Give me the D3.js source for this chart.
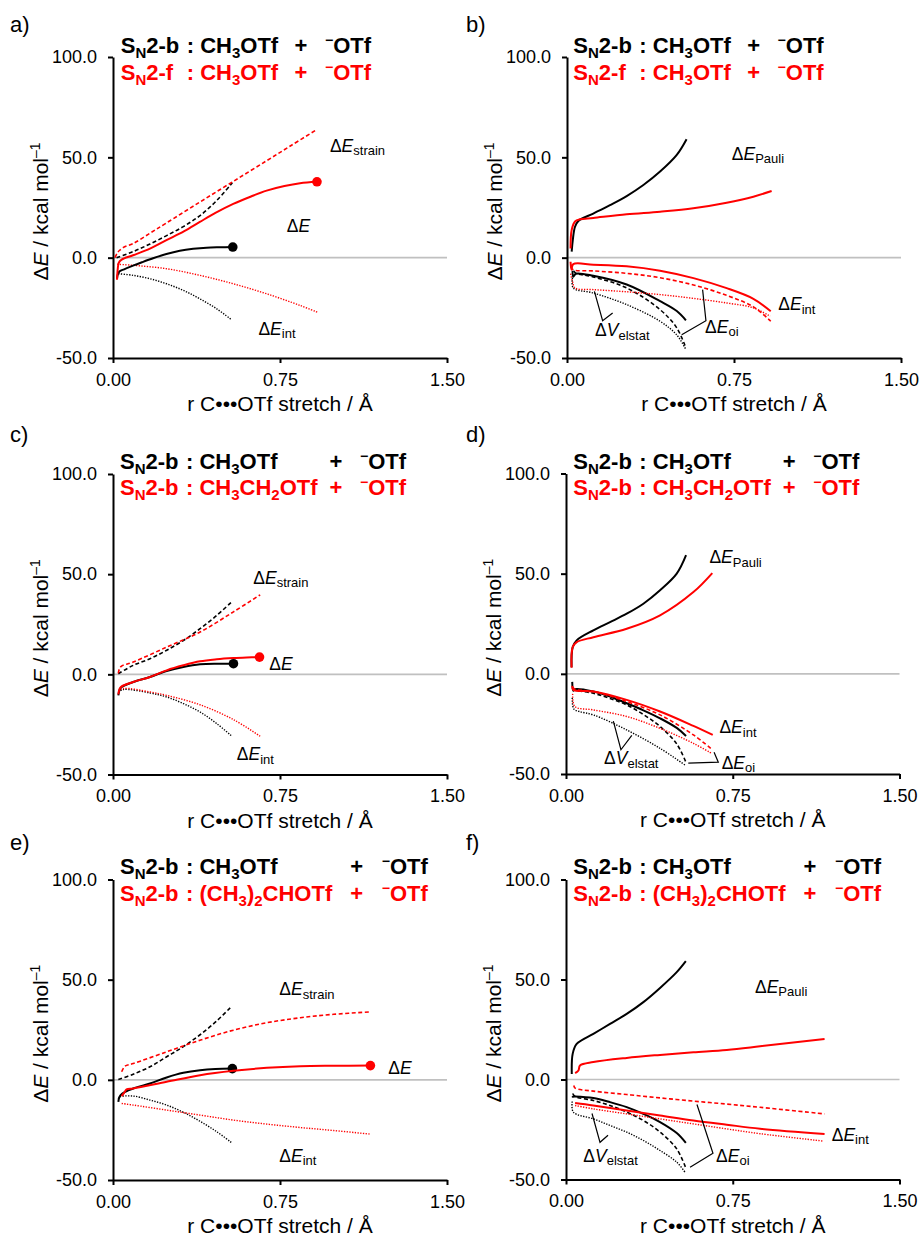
<!DOCTYPE html>
<html>
<head>
<meta charset="utf-8">
<script src="https://cdn.jsdelivr.net/npm/d3@7"></script>
<style>
  body { margin: 0; background: #fff; }
  svg { display: block; }
  text { font-family: "Liberation Sans", Arial, sans-serif; }
</style>
</head>
<body>
<svg id="chart" width="921" height="1237"></svg>
<script>
// ---- axis ticks ----
const xTicks = [0, 0.75, 1.5];
const yTicks = [-50, 0, 50, 100];
const xTickLabels = ["0.00", "0.75", "1.50"];
const yTickLabels = ["-50.0", "0.0", "50.0", "100.0"];

// ---- a) SN2-b vs SN2-f, CH3OTf: activation strain ----
const aBlkE = [[0.018,-10.5],[0.022,-8.2],[0.03,-6.8],[0.05,-5.8],[0.09,-4.0],[0.13,-2.3],[0.18,-0.3],[0.24,1.8],[0.30,3.4],[0.36,4.4],[0.42,5.0],[0.48,5.2],[0.538,5.3]];
const aRedE = [[0.018,-11],[0.021,-6],[0.026,-2.5],[0.039,-1.0],[0.09,1.2],[0.166,4.5],[0.24,8.7],[0.32,13.2],[0.39,17.8],[0.46,22.3],[0.54,26.8],[0.62,30.5],[0.69,33.4],[0.77,35.7],[0.84,37.1],[0.916,37.8]];
const aBlkStrain = [[0.016,0],[0.09,3],[0.166,6.8],[0.241,11],[0.316,15.5],[0.391,21],[0.466,28.5],[0.536,37.3]];
const aRedStrain = [[0.009,0],[0.02,2.5],[0.03,3.7],[0.05,5.3],[0.09,7],[0.166,12.2],[0.24,17.3],[0.39,27.7],[0.54,38],[0.69,48.3],[0.80,55.9],[0.913,63.7]];
const aBlkInt = [[0.024,-8],[0.09,-8.8],[0.166,-10.5],[0.24,-13],[0.316,-16.3],[0.39,-20.5],[0.466,-25.5],[0.533,-31]];
const aRedInt = [[0.019,-3.3],[0.09,-3.8],[0.24,-5.5],[0.39,-8.8],[0.54,-13],[0.69,-18],[0.84,-23.8],[0.918,-27.2]];

// ---- b) SN2-b vs SN2-f, CH3OTf: energy decomposition ----
const bBlkPauli = [[0.021,3],[0.026,8.8],[0.036,15.4],[0.051,18.3],[0.118,22],[0.193,26.2],[0.268,30.7],[0.343,36.2],[0.418,42.9],[0.493,51.2],[0.537,59]];
const bRedPauli = [[0.016,4.6],[0.021,13.8],[0.036,18],[0.058,19.1],[0.118,19.8],[0.268,21.6],[0.418,22.9],[0.567,24.6],[0.717,27.4],[0.837,30.4],[0.919,33.2]];
const bBlkInt = [[0.025,-6.5],[0.028,-9.5],[0.04,-8.0],[0.118,-9],[0.268,-13.4],[0.418,-21.7],[0.493,-26.6],[0.534,-31.2]];
const bBlkOi = [[0.03,-6.5],[0.038,-7.6],[0.118,-9.6],[0.268,-15.1],[0.418,-25.9],[0.493,-35],[0.534,-45]];
const bBlkVel = [[0.025,-10],[0.028,-15.1],[0.118,-17.6],[0.268,-23.4],[0.418,-31.7],[0.493,-38.5],[0.534,-45.8]];
const bRedInt = [[0.016,-2],[0.02,-6],[0.028,-3.2],[0.118,-3.5],[0.268,-4.3],[0.418,-6.5],[0.568,-10.2],[0.717,-15.2],[0.837,-20.5],[0.915,-26.7]];
const bRedOi = [[0.018,-4.5],[0.028,-6],[0.118,-6.6],[0.268,-7.8],[0.418,-10],[0.568,-13.6],[0.717,-18.8],[0.837,-24.5],[0.915,-31.7]];
const bRedVel = [[0.016,-8],[0.025,-12],[0.036,-15.1],[0.118,-15.9],[0.268,-17],[0.418,-18.4],[0.568,-20.3],[0.718,-22.6],[0.837,-25],[0.912,-29.2]];

// ---- c) CH3OTf vs CH3CH2OTf: activation strain ----
const cBlkE = [[0.024,-10.5],[0.03,-7.5],[0.039,-6.3],[0.091,-3.8],[0.166,-1.3],[0.241,1.7],[0.316,3.7],[0.391,5],[0.47,5.3],[0.541,5.3]];
const cRedE = [[0.024,-10],[0.03,-7.2],[0.039,-6],[0.091,-3.8],[0.166,-1.3],[0.241,2],[0.316,4.5],[0.391,6.5],[0.466,7.5],[0.541,8.1],[0.6,8.4],[0.658,8.6]];
const cBlkStrain = [[0.024,0.3],[0.091,4.5],[0.166,7.8],[0.241,12],[0.316,16.9],[0.391,22.8],[0.466,29.4],[0.536,36.5]];
const cRedStrain = [[0.024,0.5],[0.034,3.7],[0.091,6.1],[0.241,13.6],[0.391,21.1],[0.541,31.2],[0.661,39.7]];
const cBlkInt = [[0.024,-9],[0.046,-7.6],[0.166,-9.3],[0.241,-11.3],[0.316,-14.6],[0.391,-18.8],[0.466,-24.6],[0.534,-30.9]];
const cRedInt = [[0.024,-8.5],[0.046,-7.1],[0.166,-8.8],[0.241,-10.5],[0.391,-15.2],[0.541,-22.6],[0.661,-30.9]];

// ---- d) CH3OTf vs CH3CH2OTf: energy decomposition ----
const dBlkPauli = [[0.025,3.3],[0.03,13.3],[0.048,16.7],[0.123,21.7],[0.198,25.8],[0.273,30],[0.348,35],[0.423,41.7],[0.498,50],[0.54,59.2]];
const dRedPauli = [[0.025,3],[0.03,13.3],[0.048,15.8],[0.123,18.3],[0.273,22.5],[0.423,29.2],[0.573,40.8],[0.658,50.3]];
const dBlkInt = [[0.028,-4],[0.033,-8.5],[0.04,-7.7],[0.123,-8.8],[0.198,-11.3],[0.273,-14.7],[0.348,-18.2],[0.423,-22.2],[0.498,-27],[0.54,-31]];
const dBlkOi = [[0.03,-7],[0.04,-8],[0.123,-9.7],[0.198,-12.3],[0.273,-15.5],[0.348,-20.3],[0.423,-26.3],[0.498,-35],[0.54,-44.3]];
const dBlkVel = [[0.028,-12],[0.035,-17.5],[0.06,-18.8],[0.123,-20.5],[0.273,-28],[0.423,-37.2],[0.535,-45.5]];
const dRedInt = [[0.028,-6],[0.033,-8],[0.123,-8.8],[0.273,-13],[0.423,-18.8],[0.573,-26],[0.66,-30.5]];
const dRedOi = [[0.03,-6.5],[0.04,-7.7],[0.123,-8.8],[0.273,-13.8],[0.423,-20.5],[0.573,-30.5],[0.66,-38]];
const dRedVel = [[0.03,-10],[0.04,-16.3],[0.123,-18],[0.273,-21.3],[0.423,-27.2],[0.573,-34.7],[0.655,-39.7]];

// ---- e) CH3OTf vs (CH3)2CHOTf: activation strain ----
const eBlkE = [[0.024,-11],[0.028,-8.8],[0.034,-7.6],[0.054,-6],[0.091,-4.3],[0.166,-1.8],[0.241,1.2],[0.316,3.5],[0.391,4.8],[0.46,5.4],[0.536,5.6]];
const eRedE = [[0.039,-8.1],[0.05,-6.5],[0.061,-4.8],[0.091,-4.3],[0.241,-1],[0.391,2.3],[0.541,4.5],[0.691,6],[0.841,6.8],[0.991,7],[1.156,7.1]];
const eBlkStrain = [[0.024,0.2],[0.091,2.8],[0.166,6.5],[0.241,11.5],[0.316,16.6],[0.391,22.5],[0.466,29.4],[0.533,36.7]];
const eRedStrain = [[0.039,4],[0.054,6.8],[0.091,8.1],[0.241,14],[0.391,19.8],[0.541,24.8],[0.691,28.5],[0.841,31],[0.991,32.7],[1.156,33.9]];
const eBlkInt = [[0.024,-9.5],[0.031,-8.5],[0.091,-8.1],[0.166,-10.1],[0.241,-12.6],[0.316,-16.2],[0.391,-20.7],[0.466,-25.9],[0.533,-31.4]];
const eRedInt = [[0.039,-11.8],[0.091,-12.6],[0.241,-15.1],[0.391,-17.6],[0.541,-20.1],[0.691,-22.1],[0.841,-23.8],[0.991,-25.3],[1.156,-27.1]];

// ---- f) CH3OTf vs (CH3)2CHOTf: energy decomposition ----
const fBlkPauli = [[0.026,2.8],[0.03,12.8],[0.048,17.8],[0.123,22.8],[0.198,27.8],[0.273,32.8],[0.348,38.7],[0.423,45.8],[0.498,53.7],[0.539,59.2]];
const fRedPauli = [[0.041,3.2],[0.056,4.5],[0.063,7],[0.123,8.7],[0.273,10.8],[0.423,12.3],[0.573,13.6],[0.723,14.8],[0.873,16.6],[1.163,20.3]];
const fBlkInt = [[0.028,-9],[0.033,-8.5],[0.041,-8.5],[0.123,-9.3],[0.198,-11.3],[0.273,-13.8],[0.348,-17.2],[0.423,-21.3],[0.498,-26.8],[0.539,-31.7]];
const fBlkOi = [[0.03,-7],[0.041,-8.5],[0.123,-10.5],[0.198,-13],[0.273,-16.3],[0.348,-20.5],[0.423,-26.3],[0.498,-34.7],[0.539,-44.3]];
const fBlkVel = [[0.028,-11],[0.033,-16.3],[0.123,-19.7],[0.198,-23],[0.273,-26.3],[0.348,-30.5],[0.423,-35.5],[0.498,-41.3],[0.535,-46.3]];
const fRedInt = [[0.041,-11.8],[0.123,-13],[0.273,-15.5],[0.423,-18],[0.573,-20.5],[0.723,-22.6],[0.873,-24.6],[1.163,-27.2]];
const fRedOi = [[0.035,-3],[0.041,-4.3],[0.123,-5.8],[0.273,-7.5],[0.423,-9.2],[0.573,-10.8],[0.723,-12.3],[0.873,-13.9],[1.163,-17.2]];
const fRedVel = [[0.041,-13],[0.123,-14.7],[0.273,-17.2],[0.423,-19.7],[0.573,-22.2],[0.723,-24.7],[0.873,-27.1],[1.158,-30.8]];

// ---- legend formulas: [text, isSubscript] ----
const rowMeOTf = [["CH",0],["3",1],["OTf",0]];
const rowEtOTf = [["CH",0],["3",1],["CH",0],["2",1],["OTf",0]];
const rowiPrOTf = [["(CH",0],["3",1],[")",0],["2",1],["CHOTf",0]];

const BLACK = "#000000", RED = "#ff0000";
const svg = d3.select("#chart");

const S = (data, color, style, dot) => ({ data, color, style, dot: !!dot });

const panels = [
  { tag: "a)", tagX: 10, tagY: 32, left: 113, top: 57, right: 447, bottom: 358,
    legend: { x: 120.7, y1: 53, y2: 80, mech2: "2-f", r2: rowMeOTf, plus: 180.3, otf: 204.3 },
    series: [S(aBlkStrain, BLACK, "dash"), S(aRedStrain, RED, "dash"), S(aBlkInt, BLACK, "dot"), S(aRedInt, RED, "dot"),
             S(aBlkE, BLACK, "solid", true), S(aRedE, RED, "solid", true)],
    labels: [["E","strain",0.974,52.9],["E","",0.780,12.8],["E","int",0.653,-38.4]],
    leaders: [] },
  { tag: "b)", tagX: 466, tagY: 32, left: 567, top: 57, right: 901, bottom: 358,
    legend: { x: 573.3, y1: 53, y2: 80, mech2: "2-f", r2: rowMeOTf, plus: 180.3, otf: 204.3 },
    series: [S(bBlkVel, BLACK, "dot"), S(bBlkOi, BLACK, "dash"), S(bBlkInt, BLACK, "solid"), S(bBlkPauli, BLACK, "solid"),
             S(bRedVel, RED, "dot"), S(bRedOi, RED, "dash"), S(bRedInt, RED, "solid"), S(bRedPauli, RED, "solid")],
    labels: [["E","Pauli",0.74,48.8],["E","int",0.949,-26.3],["E","oi",0.62,-37.5],["V","elstat",0.126,-39.2]],
    leaders: [[[0.123,-16.8],[0.160,-31.4],[0.205,-27.6]], [[0.609,-15.9],[0.624,-31.4],[0.515,-38.4]]] },
  { tag: "c)", tagX: 10, tagY: 442, left: 113, top: 474, right: 447, bottom: 774.5,
    legend: { x: 120, y1: 468.5, y2: 495, mech2: "2-b", r2: rowEtOTf, plus: 216, otf: 240 },
    series: [S(cBlkStrain, BLACK, "dash"), S(cRedStrain, RED, "dash"), S(cBlkInt, BLACK, "dot"), S(cRedInt, RED, "dot"),
             S(cBlkE, BLACK, "solid", true), S(cRedE, RED, "solid", true)],
    labels: [["E","strain",0.63,45.2],["E","",0.702,2],["E","int",0.556,-42.9]],
    leaders: [] },
  { tag: "d)", tagX: 466, tagY: 442, left: 566, top: 473.5, right: 899.5, bottom: 774,
    legend: { x: 573.3, y1: 468.5, y2: 495, mech2: "2-b", r2: rowEtOTf, plus: 216, otf: 240 },
    series: [S(dBlkVel, BLACK, "dot"), S(dBlkOi, BLACK, "dash"), S(dBlkInt, BLACK, "solid"), S(dBlkPauli, BLACK, "solid"),
             S(dRedVel, RED, "dot"), S(dRedOi, RED, "dash"), S(dRedInt, RED, "solid"), S(dRedPauli, RED, "solid")],
    labels: [["E","Pauli",0.645,55.3],["E","int",0.69,-29.6],["E","oi",0.70,-47.4],["V","elstat",0.171,-45.2]],
    leaders: [[[0.213,-23.6],[0.247,-37.9],[0.296,-30.7]], [[0.55,-44.6],[0.685,-44.1],[0.666,-39.1]]] },
  { tag: "e)", tagX: 10, tagY: 850, left: 113, top: 879.5, right: 447, bottom: 1180,
    legend: { x: 120, y1: 874, y2: 901, mech2: "2-b", r2: rowiPrOTf, plus: 236.7, otf: 261.7 },
    series: [S(eBlkStrain, BLACK, "dash"), S(eRedStrain, RED, "dash"), S(eBlkInt, BLACK, "dot"), S(eRedInt, RED, "dot"),
             S(eBlkE, BLACK, "solid", true), S(eRedE, RED, "solid", true)],
    labels: [["E","strain",0.747,42.2],["E","",1.236,2.8],["E","int",0.747,-40.9]],
    leaders: [] },
  { tag: "f)", tagX: 466, tagY: 850, left: 566, top: 879.5, right: 899.5, bottom: 1179.5,
    legend: { x: 573.3, y1: 874, y2: 901, mech2: "2-b", r2: rowiPrOTf, plus: 236.7, otf: 261.7 },
    series: [S(fBlkVel, BLACK, "dot"), S(fBlkOi, BLACK, "dash"), S(fBlkInt, BLACK, "solid"), S(fBlkPauli, BLACK, "solid"),
             S(fRedVel, RED, "dot"), S(fRedOi, RED, "dash"), S(fRedInt, RED, "solid"), S(fRedPauli, RED, "solid")],
    labels: [["E","Pauli",0.85,43.5],["E","int",1.195,-30.7],["E","oi",0.675,-41.2],["V","elstat",0.078,-41.2]],
    leaders: [[[0.117,-17],[0.153,-31.4],[0.189,-27.9]], [[0.589,-12.5],[0.661,-36.9],[0.558,-43.9]]] }
];

const styleOf = {
  solid: { w: 2, dash: null },
  dash:  { w: 1.6, dash: "4,2.5" },
  dot:   { w: 1.4, dash: "1.3,1.4" }
};

function legendRow(g, L, y, color, mech, formula) {
  const t = g.append("text").attr("x", L.x).attr("y", y).attr("fill", color)
    .attr("font-size", 22).attr("font-weight", "bold");
  t.append("tspan").text("S");
  t.append("tspan").attr("font-size", 15).attr("dy", 5).text("N");
  t.append("tspan").attr("dy", -5).text(mech);
  const t2 = g.append("text").attr("x", L.x + 66).attr("y", y).attr("fill", color)
    .attr("font-size", 22).attr("font-weight", "bold");
  t2.append("tspan").text(": ");
  let sub = false;
  formula.forEach(([s, isSub]) => {
    const sp = t2.append("tspan").text(s);
    if (isSub && !sub) { sp.attr("font-size", 15).attr("dy", 5); sub = true; }
    else if (isSub) { sp.attr("font-size", 15); }
    else if (sub) { sp.attr("dy", -5); sub = false; }
  });
  g.append("text").attr("x", L.x + L.plus).attr("y", y).attr("fill", color)
    .attr("font-size", 22).attr("font-weight", "bold").attr("text-anchor", "middle").text("+");
  const t3 = g.append("text").attr("x", L.x + L.otf).attr("y", y).attr("fill", color)
    .attr("font-size", 22).attr("font-weight", "bold");
  t3.append("tspan").attr("font-size", 14).attr("dy", -8).text("\u2212");
  t3.append("tspan").attr("dy", 8).text("OTf");
}

panels.forEach(p => {
  const x = d3.scaleLinear().domain([0, 1.5]).range([p.left, p.right]);
  const y = d3.scaleLinear().domain([-50, 100]).range([p.bottom, p.top]);
  const g = svg.append("g");

  // panel letter
  g.append("text").attr("x", p.tagX).attr("y", p.tagY).attr("font-size", 22).text(p.tag);

  // zero reference line
  g.append("line").attr("x1", x(0)).attr("x2", x(1.5)).attr("y1", y(0)).attr("y2", y(0))
    .attr("stroke", "#c0c0c0").attr("stroke-width", 1.6);

  // axes
  const yAxis = d3.axisLeft(y).tickValues(yTicks).tickSizeInner(5).tickSizeOuter(0).tickPadding(11)
    .tickFormat(d => yTickLabels[yTicks.indexOf(d)]);
  const xAxis = d3.axisBottom(x).tickValues(xTicks).tickSizeInner(5).tickSizeOuter(0).tickPadding(10)
    .tickFormat(d => xTickLabels[xTicks.indexOf(d)]);
  const ya = g.append("g").attr("transform", `translate(${x(0)},0)`).call(yAxis);
  const xa = g.append("g").attr("transform", `translate(0,${y(-50)})`).call(xAxis);
  [ya, xa].forEach(a => {
    a.select(".domain").attr("stroke", "#000").attr("stroke-width", 2);
    a.selectAll(".tick line").attr("stroke", "#000").attr("stroke-width", 2);
    a.selectAll(".tick text").attr("font-size", 18).attr("fill", "#000")
      .attr("font-family", "'Liberation Sans', Arial, sans-serif");
  });

  // axis titles
  const cx = (p.left + p.right) / 2, cy = (p.top + p.bottom) / 2 + 4;
  g.append("text").attr("x", cx).attr("y", p.bottom + 53).attr("font-size", 21)
    .attr("text-anchor", "middle").text("r C\u2022\u2022\u2022OTf stretch / \u00C5");
  const yt = g.append("text").attr("transform", `translate(${p.left - 65},${cy}) rotate(-90)`)
    .attr("font-size", 21).attr("text-anchor", "middle");
  yt.append("tspan").text("\u0394");
  yt.append("tspan").attr("font-style", "italic").text("E");
  yt.append("tspan").text(" / kcal mol");
  yt.append("tspan").attr("font-size", 14).attr("dy", -8).text("\u20131");

  // legend
  legendRow(g, p.legend, p.legend.y1, BLACK, "2-b", rowMeOTf);
  legendRow(g, p.legend, p.legend.y2, RED, p.legend.mech2, p.legend.r2);

  // curves
  const line = d3.line().x(d => x(d[0])).y(d => y(d[1])).curve(d3.curveCatmullRom.alpha(0.5));
  p.series.forEach(s => {
    const st = styleOf[s.style];
    g.append("path").datum(s.data).attr("d", line).attr("fill", "none")
      .attr("stroke", s.color).attr("stroke-width", st.w)
      .attr("stroke-dasharray", st.dash).attr("stroke-linejoin", "round");
    if (s.dot) {
      const last = s.data[s.data.length - 1];
      g.append("circle").attr("cx", x(last[0])).attr("cy", y(last[1])).attr("r", 4.8).attr("fill", s.color);
    }
  });

  // leader lines
  p.leaders.forEach(pts => {
    g.append("path").datum(pts).attr("d", d3.line().x(d => x(d[0])).y(d => y(d[1])))
      .attr("fill", "none").attr("stroke", "#000").attr("stroke-width", 1.2);
  });

  // term labels
  p.labels.forEach(([sym, sub, lx, ly]) => {
    const t = g.append("text").attr("x", x(lx)).attr("y", y(ly)).attr("font-size", 17.5).attr("fill", "#000");
    t.append("tspan").text("\u0394");
    t.append("tspan").attr("font-style", "italic").text(sym);
    if (sub) t.append("tspan").attr("font-size", 13).attr("dy", 3.5).text(sub);
  });
});
</script>
</body>
</html>
